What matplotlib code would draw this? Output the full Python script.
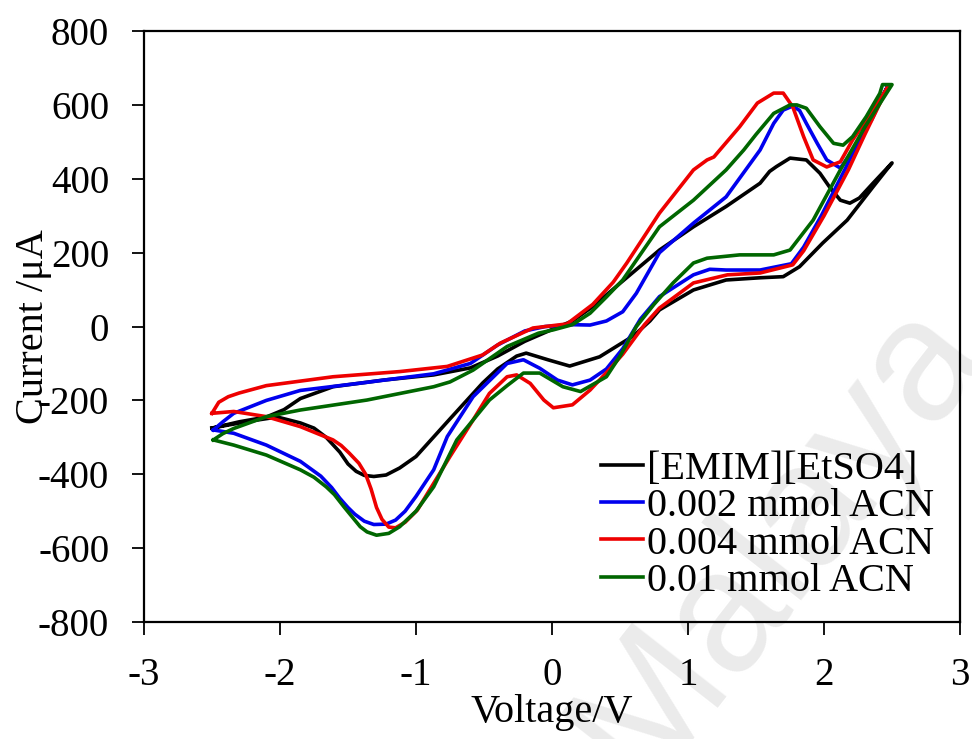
import matplotlib
matplotlib.use("Agg")
import matplotlib.pyplot as plt

plt.rcParams['font.family'] = ['Liberation Serif', 'DejaVu Serif']

labels = ["[EMIM][EtSO4]", "0.002 mmol ACN", "0.004 mmol ACN", "0.01 mmol ACN"]
colors = ["#000000", "#0000ee", "#ee0000", "#006600"]

V_black = [-2.5, -2.3, -2.1, -1.97, -1.85, -1.61, -1.24, -0.87, -0.6, -0.4, -0.2, 0.0, 0.15, 0.3, 0.5,
           0.79, 1.04, 1.28, 1.53, 1.6, 1.65, 1.75, 1.87, 1.97, 2.04, 2.12, 2.19, 2.26, 2.36, 2.5,
           2.36, 2.17, 1.99, 1.82, 1.70, 1.53, 1.28, 1.04, 0.79, 0.72, 0.6, 0.35, 0.13, -0.03, -0.19,
           -0.26, -0.4, -0.51, -0.75, -1.0, -1.12, -1.22, -1.31, -1.38, -1.44, -1.5, -1.56, -1.66,
           -1.75, -1.85, -2.02, -2.2, -2.4, -2.5]
I_black = [-275, -258, -245, -225, -195, -163, -145, -131, -112, -80, -40, -8, 15, 54, 117,
           207, 270, 325, 388, 420, 433, 456, 451, 415, 378, 342, 334, 348, 388, 443,
           378, 288, 226, 162, 135, 132, 126, 99, 45, 15, -25, -82, -107, -90, -72,
           -80, -115, -153, -250, -352, -383, -402, -406, -403, -392, -372, -340, -300,
           -275, -261, -245, -255, -268, -275]

V_blue = [-2.49, -2.42, -2.34, -2.10, -1.85, -1.36, -0.87, -0.6, -0.4, -0.2, -0.05, 0.15, 0.28, 0.4,
          0.52, 0.62, 0.79, 1.04, 1.28, 1.53, 1.63, 1.70, 1.77, 1.82, 1.87, 1.95, 2.02, 2.12, 2.2,
          2.35, 2.47,
          2.3, 2.16, 1.98, 1.85, 1.76, 1.53, 1.28, 1.16, 1.04, 0.79, 0.65, 0.52, 0.40, 0.28, 0.15,
          0.04, -0.09, -0.21, -0.33, -0.58, -0.77, -0.87, -1.0, -1.08, -1.15, -1.22, -1.31, -1.38,
          -1.45, -1.5, -1.56, -1.62, -1.7, -1.85, -2.10, -2.34, -2.49]
I_blue = [-280, -258, -235, -200, -173, -151, -128, -100, -50, -12, 0, 5, 4, 15,
          40, 90, 200, 280, 351, 478, 550, 586, 597, 585, 550, 496, 451, 429, 470,
          560, 652,
          535, 430, 300, 215, 170, 153, 153, 155, 140, 81, 20, -60, -115, -145, -158,
          -145, -113, -90, -100, -190, -298, -388, -460, -500, -524, -535, -536, -527,
          -508, -490, -465, -436, -405, -365, -321, -289, -280]

V_red = [-2.50, -2.45, -2.38, -2.3, -2.1, -1.61, -1.12, -0.77, -0.51, -0.38, -0.14, 0.11, 0.30, 0.45,
         0.55, 0.79, 1.04, 1.14, 1.19, 1.38, 1.51, 1.63, 1.70, 1.77, 1.85, 1.92, 2.02, 2.12, 2.21,
         2.35, 2.47,
         2.3, 2.18, 2.0, 1.85, 1.77, 1.53, 1.29, 1.04, 0.79, 0.68, 0.52, 0.40, 0.28, 0.15, 0.01,
         -0.06, -0.16, -0.26, -0.33, -0.46, -0.58, -0.75, -0.99, -1.08, -1.15, -1.2, -1.25, -1.29,
         -1.33, -1.37, -1.42, -1.49, -1.55, -1.61, -1.85, -2.10, -2.34, -2.50]
I_red = [-235, -205, -190, -180, -160, -136, -122, -108, -77, -45, -4, 7, 60, 120,
         172, 307, 424, 451, 459, 541, 605, 632, 632, 595, 514, 451, 432, 446, 505,
         580, 649,
         520, 425, 300, 205, 167, 145, 140, 118, 50, 5, -75, -125, -172, -212, -220,
         -199, -154, -131, -136, -181, -253, -352, -497, -530, -545, -543, -522, -490,
         -440, -400, -370, -343, -322, -307, -271, -244, -230, -235]

V_green = [-2.49, -2.42, -2.34, -2.10, -1.85, -1.36, -0.87, -0.75, -0.58, -0.33, -0.1, 0.01, 0.15,
           0.28, 0.40, 0.52, 0.79, 1.04, 1.28, 1.41, 1.5, 1.63, 1.75, 1.80, 1.87, 1.97, 2.07, 2.14,
           2.21, 2.31, 2.41, 2.43, 2.5,
           2.3, 2.12, 1.92, 1.75, 1.63, 1.38, 1.14, 1.04, 0.89, 0.75, 0.62, 0.5, 0.40, 0.21, 0.08,
           -0.09, -0.21, -0.33, -0.46, -0.70, -0.87, -1.0, -1.12, -1.2, -1.29, -1.36, -1.41, -1.47,
           -1.53, -1.6, -1.66, -1.75, -1.85, -2.10, -2.34, -2.49]
I_green = [-307, -290, -276, -244, -226, -199, -163, -150, -118, -54, -18, -9, 5,
           36, 80, 126, 270, 342, 424, 478, 520, 577, 600, 600, 591, 541, 496, 491,
           514, 568, 631, 655, 655,
           540, 424, 288, 207, 194, 194, 185, 172, 118, 60, 0, -80, -136, -176, -163,
           -126, -126, -160, -199, -307, -434, -500, -542, -560, -565, -556, -542, -515,
           -488, -455, -434, -408, -388, -348, -321, -307]

series = [(V_black, I_black), (V_blue, I_blue), (V_red, I_red), (V_green, I_green)]

x_ticks = [-3, -2, -1, 0, 1, 2, 3]
y_ticks = [-800, -600, -400, -200, 0, 200, 400, 600, 800]

fig = plt.figure(figsize=(9.72, 7.39), dpi=100)
ax = fig.add_axes([0.1481, 0.1583, 0.8396, 0.7997])
ax.set_facecolor('none')

fig.text(0.80, 0.27, "Malaya", fontsize=125, rotation=52, color='#ebebeb',
         family='Liberation Sans', ha='center', va='center', zorder=-10)

for (v, i), c, lab in zip(series, colors, labels):
    ax.plot(v, i, color=c, lw=2.6, label=lab, solid_joinstyle='round')

ax.set_xlim(-3, 3)
ax.set_ylim(-800, 800)
ax.set_xticks(x_ticks)
ax.set_yticks(y_ticks)
ax.set_xticklabels([str(t) for t in x_ticks])
ax.set_yticklabels([str(t) for t in y_ticks])
ax.tick_params(axis='both', direction='out', length=9, width=1.3, labelsize=28, pad=16, colors='black')
for s in ax.spines.values():
    s.set_linewidth(1.6)

ax.set_xlabel("Voltage/V", fontsize=29, labelpad=0)
ax.set_ylabel("Current /μA", fontsize=29, labelpad=-10)

leg = ax.legend(loc='lower right', bbox_to_anchor=(1.003, -0.01), frameon=False, fontsize=29,
                handlelength=1.05, handletextpad=0.1, labelspacing=0.0, borderpad=0.2)

fig.savefig("out.png", dpi=100)
